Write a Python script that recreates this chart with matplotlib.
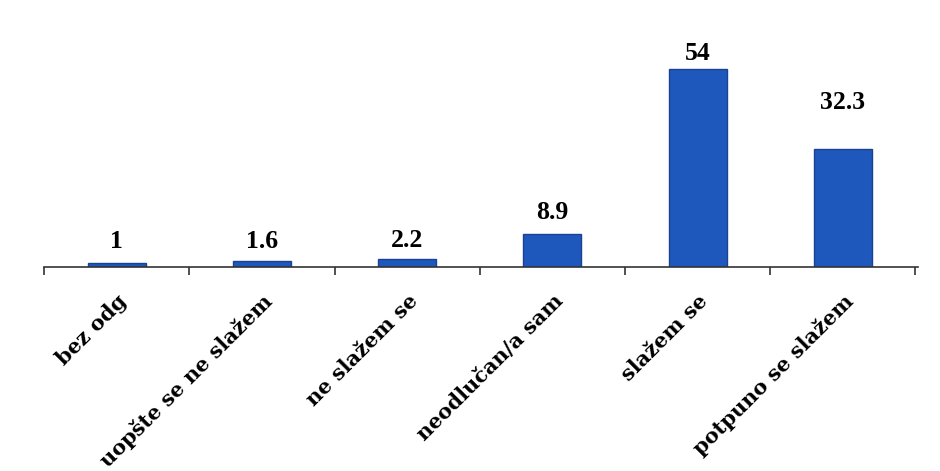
import matplotlib.pyplot as plt
import numpy as np

categories = ["bez odg", "uopšte se ne slažem", "ne slažem se",
              "neodlučan/a sam", "slažem se", "potpuno se slažem"]
values = [1, 1.6, 2.2, 8.9, 54, 32.3]
value_labels = ["1", "1.6", "2.2", "8.9", "54", "32.3"]
# vertical gap (points) from bar top to the centre of its value label
label_gap = [16, 14.5, 13.5, 15.5, 11.5, 33]

plt.rcParams['font.family'] = ['Liberation Serif', 'DejaVu Serif']

fig = plt.figure(figsize=(9.4, 4.71), dpi=100)
ax = fig.add_axes([0.047, 0.433, 0.93, 0.524])

x = np.arange(len(categories))
ax.bar(x, values, width=0.4, color='#1e58bc', edgecolor='#1a4290', linewidth=1)

for xi, v, lab, g in zip(x, values, value_labels, label_gap):
    ax.annotate(lab, (xi, v), xytext=(0, g), textcoords='offset points',
                ha='center', va='center', fontsize=18.5, fontweight='bold')

ax.set_xlim(-0.5, 5.52)
ax.set_ylim(0, 67.4)

for s in ['top', 'right', 'left']:
    ax.spines[s].set_visible(False)
ax.spines['bottom'].set_color('#333333')
ax.spines['bottom'].set_linewidth(1.2)
ax.set_yticks([])

ax.set_xticks(x)
ax.set_xticklabels(categories, rotation=45, ha='right', rotation_mode='anchor',
                   fontsize=15, fontweight='bold', family=['DejaVu Serif'])
ax.tick_params(axis='x', which='major', length=0, pad=17)
ax.set_xticks(np.arange(-0.5, 6, 1), minor=True)
ax.tick_params(axis='x', which='minor', length=6, width=1.2, color='#333333')

fig.savefig('out.png', dpi=100)
